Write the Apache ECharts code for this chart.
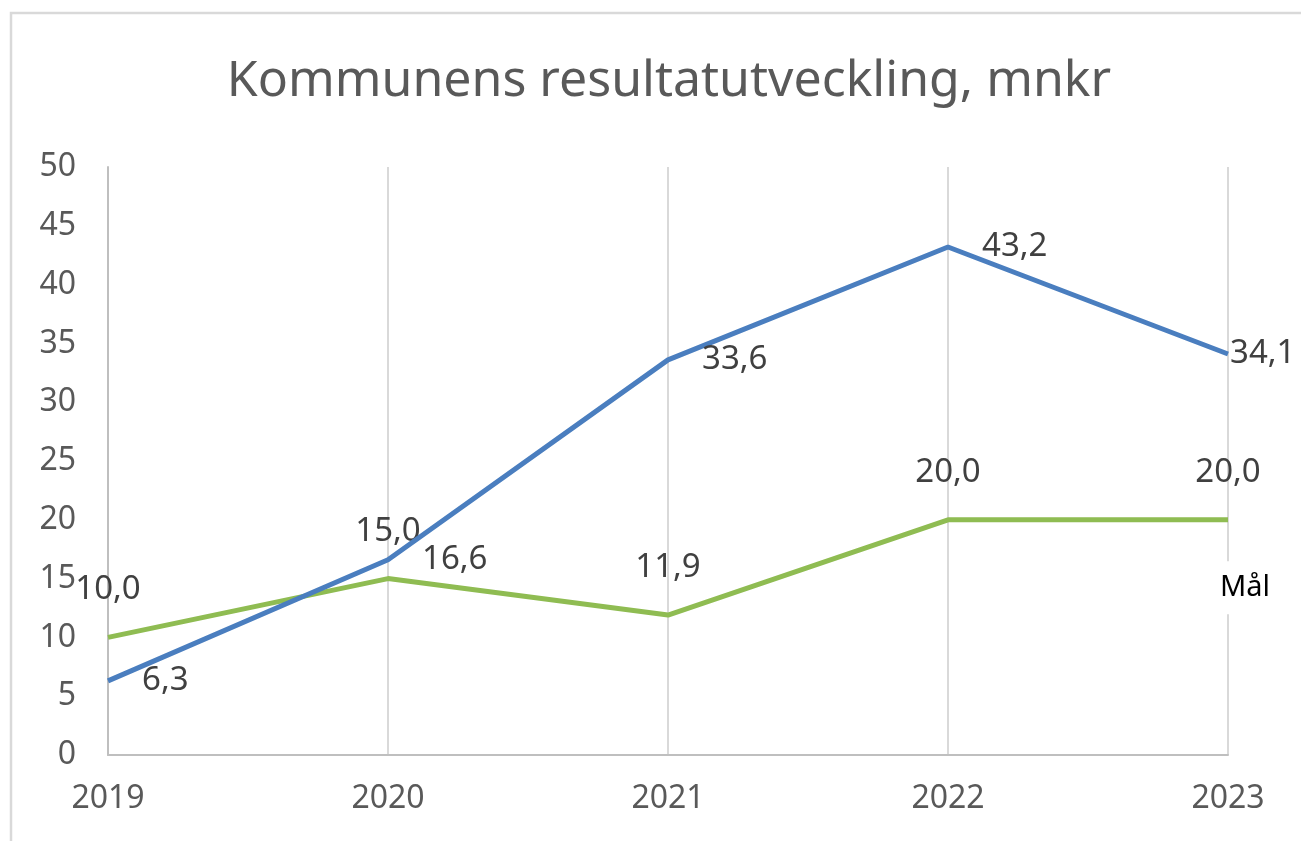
<!DOCTYPE html>
<html>
<head>
<meta charset="utf-8">
<script src="https://cdn.jsdelivr.net/npm/echarts@6/dist/echarts.min.js"></script>
<style>
html,body{margin:0;padding:0;background:#fff;}
#chart{width:1301px;height:841px;}
</style>
</head>
<body>
<div id="chart"></div>
<script>
const titleText = 'Kommunens resultatutveckling, mnkr';
const years = ['2019', '2020', '2021', '2022', '2023'];
const resultat = [6.3, 16.6, 33.6, 43.2, 34.1];
const mal = [10.0, 15.0, 11.9, 20.0, 20.0];
const malName = 'Mål';
const yTicks = {min: 0, max: 50, interval: 5};

const fmt = v => v.toFixed(1).replace('.', ',');
const FONT = '"Noto Sans", sans-serif';

const chart = echarts.init(document.getElementById('chart'), null, {renderer: 'canvas'});

const blueData = resultat.map((v, i) => {
  const item = {value: v};
  if (i === resultat.length - 1) item.label = {distance: 2};
  return item;
});

chart.setOption({
  animation: false,
  backgroundColor: '#ffffff',
  graphic: [{
    type: 'rect', z: -1,
    shape: {x: 11, y: 13, width: 1310, height: 850},
    style: {fill: 'none', stroke: '#d9d9d9', lineWidth: 2.5}
  }],
  title: {
    text: titleText,
    left: 664, top: 52, textAlign: 'center',
    textStyle: {fontFamily: FONT, fontSize: 50, fontWeight: 'normal', color: '#595959'}
  },
  grid: {left: 108, right: 73, top: 167, bottom: 86, containLabel: false},
  xAxis: {
    type: 'category', data: years, boundaryGap: false,
    axisLine: {lineStyle: {color: '#bfbfbf', width: 2}},
    axisTick: {show: false},
    splitLine: {show: true, lineStyle: {color: '#d9d9d9', width: 2}},
    axisLabel: {fontFamily: FONT, fontSize: 32, color: '#595959', margin: 28}
  },
  yAxis: {
    type: 'value', min: yTicks.min, max: yTicks.max, interval: yTicks.interval,
    axisLine: {show: true, lineStyle: {color: '#bfbfbf', width: 2}},
    axisTick: {show: false},
    splitLine: {show: false},
    axisLabel: {fontFamily: FONT, fontSize: 32, color: '#595959', margin: 32}
  },
  series: [
    {
      name: 'Resultat', type: 'line', data: blueData,
      symbol: 'circle', symbolSize: 0, showSymbol: true,
      lineStyle: {color: '#4a7ebf', width: 5},
      itemStyle: {color: '#4a7ebf'},
      label: {show: true, position: 'right', distance: 34, formatter: p => fmt(p.value),
        fontFamily: FONT, fontSize: 33, color: '#404040'},
      z: 3
    },
    {
      name: malName, type: 'line', data: mal,
      symbol: 'circle', symbolSize: 0, showSymbol: true,
      lineStyle: {color: '#8fbc52', width: 5},
      itemStyle: {color: '#8fbc52'},
      label: {show: true, position: 'top', distance: 31, formatter: p => fmt(p.value),
        fontFamily: FONT, fontSize: 33, color: '#404040'},
      markPoint: {
        symbol: 'rect', symbolSize: 0,
        data: [{coord: [years.length - 1, mal[mal.length - 1]], value: malName}],
        label: {show: true, formatter: malName, offset: [17, 68],
          fontFamily: FONT, fontSize: 29, color: '#000000',
          backgroundColor: '#ffffff', padding: [12, 2, 12, 2]}
      },
      z: 2
    }
  ]
});
</script>
</body>
</html>
